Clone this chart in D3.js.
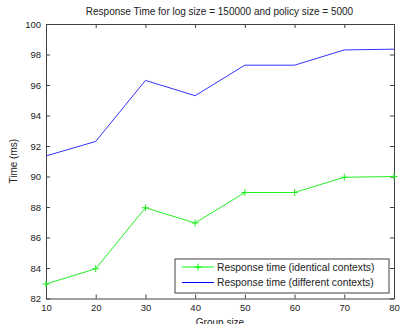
<!DOCTYPE html>
<html>
<head>
<meta charset="utf-8">
<script src="https://cdn.jsdelivr.net/npm/d3@7"></script>
<style>
  body { margin: 0; background: #ffffff; }
  svg text { font-family: "Liberation Sans", Arial, sans-serif; fill: #222; }
</style>
</head>
<body>
<script>
// Chart data.
const groupSizes = [10, 20, 30, 40, 50, 60, 70, 80];
const identicalTimes = [82.95, 83.95, 87.95, 86.95, 88.95, 88.95, 89.95, 90.0];
const differentTimes = [91.35, 92.3, 96.3, 95.3, 97.3, 97.3, 98.3, 98.35];
const xTicks = [10, 20, 30, 40, 50, 60, 70, 80];
const yTicks = [82, 84, 86, 88, 90, 92, 94, 96, 98, 100];
const seriesNames = ['Response time (identical contexts)', 'Response time (different contexts)'];

// Sizes.
const size = {width: 401, height: 324};
const margin = {top: 24, right: 7, bottom: 25.5, left: 46};

const svg = d3.select('body')
      .append('svg')
      .attr('width', size.width)
      .attr('height', size.height);

const x = d3.scaleLinear()
      .domain([10, 80])
      .range([margin.left, size.width - margin.right]);
const y = d3.scaleLinear()
      .domain([82, 100])
      .range([size.height - margin.bottom, margin.top]);

// Axes (matlab style, inner ticks on all four sides).
const tickLen = 4;
const axisColor = '#404040';

svg.append('g')
  .attr('transform', 'translate(0,' + y.range()[0] + ')')
  .call(d3.axisBottom(x).tickValues(xTicks).tickSizeInner(-tickLen).tickSizeOuter(0).tickPadding(4))
  .call((g) => g.selectAll('text').attr('font-size', 9.5).attr('dy', '0.9em'));
svg.append('g')
  .attr('transform', 'translate(0,' + y.range()[1] + ')')
  .call(d3.axisTop(x).tickValues(xTicks).tickSizeInner(-tickLen).tickSizeOuter(0).tickFormat(''));
svg.append('g')
  .attr('transform', 'translate(' + x.range()[0] + ',0)')
  .call(d3.axisLeft(y).tickValues(yTicks).tickSizeInner(-tickLen).tickSizeOuter(0).tickPadding(5))
  .call((g) => g.selectAll('text').attr('font-size', 9.5));
svg.append('g')
  .attr('transform', 'translate(' + x.range()[1] + ',0)')
  .call(d3.axisRight(y).tickValues(yTicks).tickSizeInner(-tickLen).tickSizeOuter(0).tickFormat(''));

svg.selectAll('.domain').attr('stroke', axisColor);
svg.selectAll('.tick line').attr('stroke', axisColor);

// Lines.
const line = d3.line()
      .x((d, i) => x(groupSizes[i]))
      .y((d) => y(d));

svg.append('path')
  .datum(differentTimes)
  .attr('fill', 'none')
  .attr('stroke', '#3333ff')
  .attr('stroke-width', 1)
  .attr('d', line);

svg.append('path')
  .datum(identicalTimes)
  .attr('fill', 'none')
  .attr('stroke', '#22ee22')
  .attr('stroke-width', 1)
  .attr('d', line);

// Plus markers on the identical-contexts series.
svg.selectAll('path.marker')
  .data(identicalTimes)
  .enter()
  .append('path')
  .attr('class', 'marker')
  .attr('d', 'M-3.5,0H3.5M0,-3.5V3.5')
  .attr('transform', (d, i) => 'translate(' + x(groupSizes[i]) + ',' + y(d) + ')')
  .attr('stroke', '#22ee22')
  .attr('fill', 'none');

// Title and axis labels.
svg.append('text')
  .attr('x', 219.5)
  .attr('y', 15)
  .attr('text-anchor', 'middle')
  .attr('font-size', 10)
  .text('Response Time for log size = 150000 and policy size = 5000');

svg.append('text')
  .attr('transform', 'translate(17,' + ((y.range()[0] + y.range()[1]) / 2) + ') rotate(-90)')
  .attr('text-anchor', 'middle')
  .attr('font-size', 10)
  .text('Time (ms)');

svg.append('text')
  .attr('x', (x.range()[0] + x.range()[1]) / 2)
  .attr('y', 325.5)
  .attr('text-anchor', 'middle')
  .attr('font-size', 10)
  .text('Group size');

// Legend.
const legend = svg.append('g').attr('transform', 'translate(175,259)');
legend.append('rect')
  .attr('width', 214)
  .attr('height', 34)
  .attr('fill', '#ffffff')
  .attr('stroke', axisColor);

const legendColors = ['#00ff00', '#0000ff'];
seriesNames.forEach((name, i) => {
  const ly = 8 + i * 15.5;
  legend.append('line')
    .attr('x1', 7).attr('x2', 39)
    .attr('y1', ly).attr('y2', ly)
    .attr('stroke', legendColors[i]);
  if (i === 0) {
    legend.append('path')
      .attr('d', 'M-3.5,0H3.5M0,-3.5V3.5')
      .attr('transform', 'translate(23,' + ly + ')')
      .attr('stroke', legendColors[i]);
  }
  legend.append('text')
    .attr('x', 42)
    .attr('y', ly)
    .attr('dy', '0.35em')
    .attr('font-size', 10.3)
    .text(name);
});
</script>
</body>
</html>
